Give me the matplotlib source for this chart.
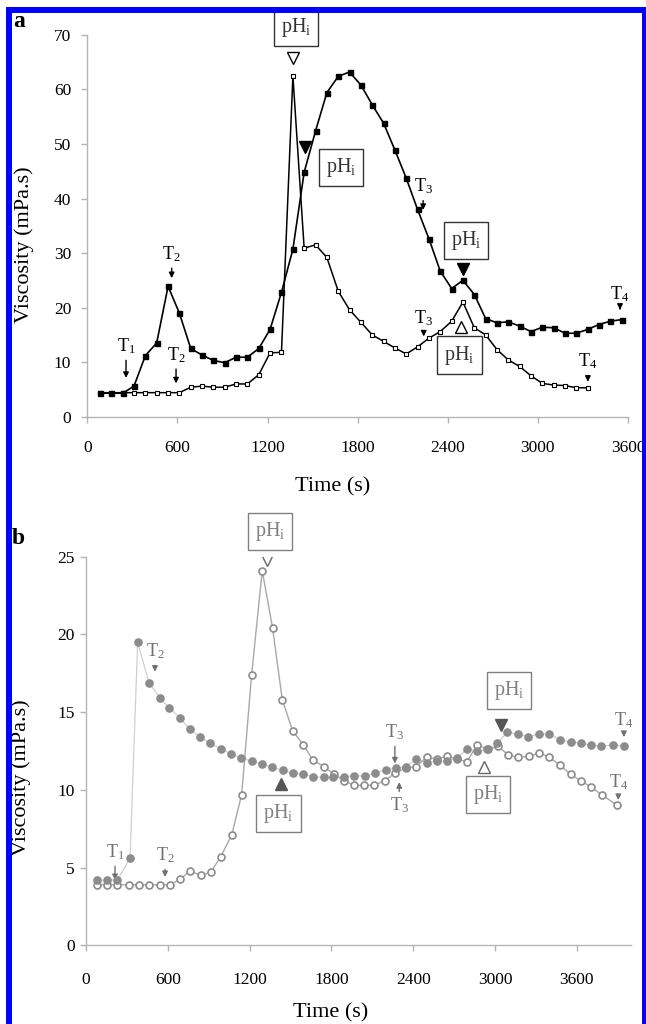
import matplotlib
matplotlib.use("Agg")
import matplotlib.pyplot as plt
from matplotlib.patches import Rectangle

plt.rcParams['font.family'] = ['Liberation Serif', 'DejaVu Serif']
plt.rcParams['mathtext.fontset'] = 'custom'
plt.rcParams['mathtext.rm'] = 'Liberation Serif'
plt.rcParams['mathtext.it'] = 'Liberation Serif:italic'

# ---- panel a data (time in s, viscosity in mPa.s)
t_a = [84, 160, 236, 311, 387, 462, 538, 613, 689, 764, 840, 915, 991, 1066, 1142,
       1217, 1293, 1369, 1444, 1520, 1595, 1671, 1746, 1822, 1897, 1973, 2048, 2124,
       2199, 2275, 2350, 2426, 2501, 2577, 2652, 2728, 2803, 2879, 2954, 3030, 3105,
       3181, 3256, 3332, 3407, 3483, 3558]
visc_a_filled = [4.3, 4.3, 4.3, 5.6, 11.2, 13.5, 23.9, 19.0, 12.5, 11.3, 10.3, 9.9, 10.9,
                 10.9, 12.5, 16.0, 22.8, 30.7, 44.8, 52.4, 59.4, 62.4, 63.2, 60.8, 57.2,
                 53.8, 48.9, 43.7, 38.0, 32.6, 26.7, 23.5, 25.0, 22.4, 18.0, 17.2, 17.4,
                 16.6, 15.6, 16.4, 16.3, 15.3, 15.3, 16.0, 16.9, 17.5, 17.8]
visc_a_open = [4.4, 4.4, 4.4, 4.4, 4.4, 4.4, 4.4, 4.4, 5.4, 5.6, 5.4, 5.4, 6.0, 6.0, 7.7,
               11.7, 11.8, 62.5, 30.9, 31.5, 29.2, 23.0, 19.6, 17.3, 15.0, 13.8, 12.6,
               11.5, 12.8, 14.4, 15.6, 17.5, 21.0, 16.3, 15.0, 12.3, 10.4, 9.2, 7.5, 6.1,
               5.8, 5.7, 5.3, 5.3]

# ---- panel b data
t_b_filled = [83, 152, 230, 323, 379, 462, 543, 611, 690, 763, 836, 910, 988, 1066, 1139,
              1215, 1289, 1362, 1443, 1516, 1594, 1667, 1746, 1814, 1892, 1966, 2044,
              2120, 2200, 2274, 2347, 2421, 2499, 2572, 2646, 2719, 2793, 2870, 2951,
              3017, 3090, 3171, 3244, 3325, 3398, 3477, 3555, 3629, 3702, 3775, 3868, 3946]
visc_b_filled = [4.2, 4.2, 4.2, 5.6, 19.5, 16.9, 15.9, 15.3, 14.6, 13.9, 13.4, 13.0, 12.65,
                 12.3, 12.05, 11.85, 11.65, 11.5, 11.25, 11.1, 11.0, 10.85, 10.8, 10.8,
                 10.85, 10.9, 10.9, 11.1, 11.3, 11.4, 11.5, 12.0, 11.75, 11.85, 11.85,
                 12.05, 12.6, 12.5, 12.6, 13.0, 13.7, 13.6, 13.4, 13.6, 13.6, 13.2, 13.1,
                 13.0, 12.9, 12.8, 12.9, 12.8]
t_b_open = [83, 156, 230, 318, 391, 462, 543, 616, 690, 763, 841, 915, 988, 1069, 1142,
            1215, 1293, 1369, 1440, 1516, 1594, 1667, 1746, 1819, 1892, 1966, 2040, 2115,
            2193, 2270, 2345, 2421, 2499, 2572, 2646, 2720, 2793, 2870, 2945, 3024, 3098,
            3171, 3252, 3325, 3398, 3477, 3555, 3629, 3702, 3783, 3897]
visc_b_open = [3.9, 3.9, 3.9, 3.9, 3.9, 3.9, 3.9, 3.9, 4.25, 4.8, 4.5, 4.7, 5.7, 7.1, 9.7,
               17.4, 24.1, 20.4, 15.8, 13.8, 12.9, 11.9, 11.5, 11.0, 10.6, 10.3, 10.3, 10.3,
               10.6, 11.1, 11.4, 11.5, 12.1, 12.0, 12.15, 12.0, 11.8, 12.9, 12.6, 12.8,
               12.25, 12.1, 12.15, 12.4, 12.1, 11.6, 11.0, 10.6, 10.2, 9.7, 9.0]

# ---- annotations: (label, tip, text position)
T_a = [("T$_\\mathrm{1}$", (258, 7.1), (258, 12.9)),
       ("T$_\\mathrm{2}$", (562, 25.4), (562, 29.8)),
       ("T$_\\mathrm{2}$", (591, 6.1), (591, 11.3)),
       ("T$_\\mathrm{3}$", (2236, 37.9), (2236, 42.2)),
       ("T$_\\mathrm{3}$", (2240, 14.7), (2240, 18.1)),
       ("T$_\\mathrm{4}$", (3547, 19.6), (3547, 22.4)),
       ("T$_\\mathrm{4}$", (3333, 6.4), (3333, 10.1))]
pH_box_a = [(1389, 71.3), (1689, 45.7), (2522, 32.3), (2478, 11.3)]
tri_a_open_down = ([1373], [65.8])
tri_a_fill_down = ([1451, 2500], [49.5, 27.0])
tri_a_open_up = ([2491], [16.4])

T_b = [("T$_\\mathrm{1}$", (213, 4.2), (213, 6.0)),
       ("T$_\\mathrm{2}$", (580, 4.4), (580, 5.8)),
       ("T$_\\mathrm{2}$", (506, 17.6), (506, 18.9)),
       ("T$_\\mathrm{3}$", (2266, 11.7), (2266, 13.7)),
       ("T$_\\mathrm{3}$", (2298, 10.5), (2298, 9.0)),
       ("T$_\\mathrm{4}$", (3946, 13.4), (3946, 14.5)),
       ("T$_\\mathrm{4}$", (3905, 9.35), (3905, 10.5))]
pH_box_b = [(1350, 26.6), (1412, 8.5), (3103, 16.4), (2949, 9.7)]
tri_b_open_down = ([1325], [24.8])
tri_b_fill_up = ([1430], [10.4])
tri_b_fill_down = ([3044], [14.2])
tri_b_open_up = ([2919], [11.5])

fig = plt.figure(figsize=(6.46, 10.24), dpi=100)
spine_c = '#b4b4b4'


def style_axes(ax, xpad, ypad):
    for s in ['top', 'right']:
        ax.spines[s].set_visible(False)
    for s in ['left', 'bottom']:
        ax.spines[s].set_color(spine_c)
        ax.spines[s].set_linewidth(1)
    ax.tick_params(direction='out', length=4, width=1, color=spine_c,
                   labelsize=12.5, labelcolor='black')
    ax.tick_params(axis='x', pad=xpad)
    ax.tick_params(axis='y', pad=ypad)


def t_arrow(ax, lab, tip, txt, col):
    ax.annotate(lab, xy=tip, xytext=txt, ha='center', va='center', fontsize=13,
                color=col,
                arrowprops=dict(arrowstyle='-|>', color=col, lw=1, shrinkA=1,
                                shrinkB=0, mutation_scale=8))


def ph_box(ax, pos, col):
    ax.text(pos[0], pos[1], 'pH$_\\mathrm{i}$', ha='center', va='center',
            fontsize=14.5, color=col,
            bbox=dict(boxstyle='square,pad=0.35', fc='white', ec=col, lw=1))


# ======= panel a
ax1 = fig.add_axes([0.1351, 0.5931, 0.837, 0.3728])
ax1.plot(t_a[:len(visc_a_open)], visc_a_open, '-s', color='black', lw=1.1, ms=3.4,
         mfc='white', mec='black', mew=0.8, zorder=3)
ax1.plot(t_a, visc_a_filled, '-s', color='black', lw=1.2, ms=3.6, mfc='black',
         mec='black', zorder=4)
ax1.plot(*tri_a_open_down, 'v', ms=8, mfc='white', mec='black', mew=1, zorder=5)
ax1.plot(*tri_a_fill_down, 'v', ms=8.5, mfc='black', mec='black', zorder=5)
ax1.plot(*tri_a_open_up, '^', ms=8, mfc='white', mec='black', mew=1, zorder=5)
for lab, tip, txt in T_a:
    t_arrow(ax1, lab, tip, txt, 'black')
for p in pH_box_a:
    ph_box(ax1, p, '#333333')
ax1.set_xlim(0, 3600)
ax1.set_ylim(0, 70)
ax1.set_xticks([0, 600, 1200, 1800, 2400, 3000, 3600])
ax1.set_yticks(range(0, 71, 10))
style_axes(ax1, 13, 7.5)
ax1.set_xlabel('Time (s)', fontsize=16)
ax1.set_ylabel('Viscosity (mPa.s)', fontsize=16)
ax1.xaxis.set_label_coords(0.453, -0.158)
ax1.yaxis.set_label_coords(-0.099, 0.45)

# ======= panel b
ax2 = fig.add_axes([0.1331, 0.0767, 0.8441, 0.3797])
ax2.plot(t_b_filled, visc_b_filled, '-', color='#d0d0d0', lw=0.9, zorder=2)
ax2.plot(t_b_filled, visc_b_filled, 'o', ms=5.2, mfc='#8c8c8c', mec='#8c8c8c', zorder=4)
ax2.plot(t_b_open, visc_b_open, '-o', color='#a8a8a8', lw=1.0, ms=5.0, mfc='white',
         mec='#8c8c8c', mew=1.2, zorder=3)
ax2.plot(*tri_b_open_down, 'v', ms=8, mfc='white', mec='#666666', mew=1, zorder=5)
ax2.plot(*tri_b_fill_up, '^', ms=8, mfc='#555555', mec='#555555', zorder=5)
ax2.plot(*tri_b_fill_down, 'v', ms=8, mfc='#555555', mec='#555555', zorder=5)
ax2.plot(*tri_b_open_up, '^', ms=8, mfc='white', mec='#666666', mew=1, zorder=5)
for lab, tip, txt in T_b:
    t_arrow(ax2, lab, tip, txt, '#707070')
for p in pH_box_b:
    ph_box(ax2, p, '#808080')
ax2.set_xlim(0, 4000)
ax2.set_ylim(0, 25)
ax2.set_xticks([0, 600, 1200, 1800, 2400, 3000, 3600])
ax2.set_yticks(range(0, 26, 5))
style_axes(ax2, 15, 4)
ax2.set_xlabel('Time (s)', fontsize=16)
ax2.set_ylabel('Viscosity (mPa.s)', fontsize=16)
ax2.xaxis.set_label_coords(0.449, -0.149)
ax2.yaxis.set_label_coords(-0.101, 0.432)

# panel letters
fig.text(0.029, 0.979, 'a', fontsize=17, fontweight='bold', ha='center', va='center')
fig.text(0.028, 0.474, 'b', fontsize=17, fontweight='bold', ha='center', va='center')

# blue frame
fig.patches.append(Rectangle((0.0136, -0.01), 0.9841, 1.0002, transform=fig.transFigure,
                             fill=False, ec='#0000ff', lw=4.3, zorder=0))

fig.savefig('out.png', dpi=100)
